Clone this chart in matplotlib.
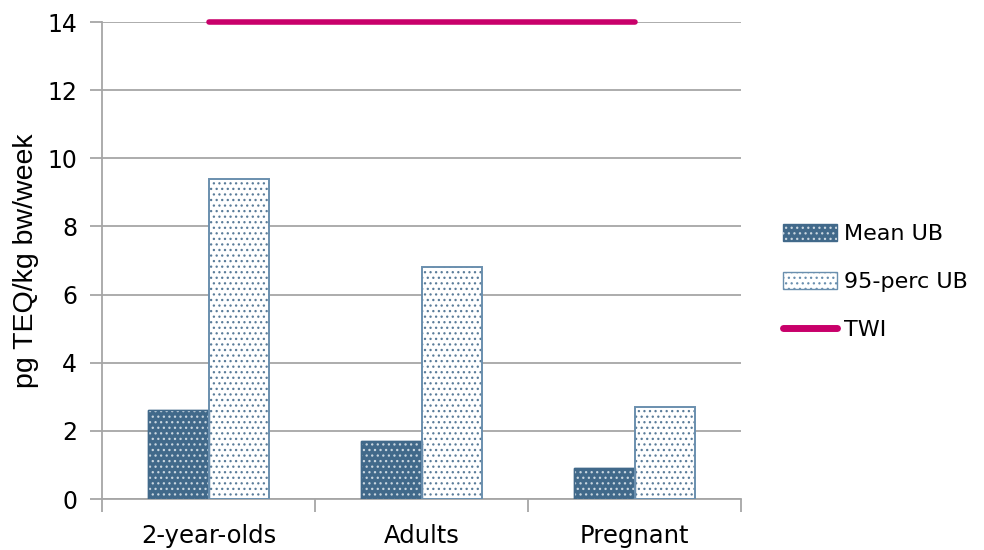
import matplotlib
matplotlib.use("Agg")
import matplotlib.pyplot as plt
from matplotlib.patches import Rectangle
from matplotlib.lines import Line2D
from matplotlib.legend_handler import HandlerTuple
import numpy as np

categories = ["2-year-olds", "Adults", "Pregnant"]
mean_ub = [2.6, 1.7, 0.9]
perc95_ub = [9.4, 6.8, 2.7]
twi = 14
yticks = [0, 2, 4, 6, 8, 10, 12, 14]

dark = "#41698A"
edge = "#6A8FAE"
dot_c = "#5A7C99"
light_dot = "#C9D6E0"
grid_c = "#A6A6A6"
twi_c = "#C8006A"
dots = "..."

plt.rcParams["hatch.linewidth"] = 0.9

fig = plt.figure(figsize=(9.84, 5.5), dpi=100)
ax = fig.add_axes([0.1037, 0.0927, 0.6494, 0.8673])

x = np.arange(len(categories))
w = 0.286

# Mean UB: dark fill with light dots
ax.bar(x - w / 2, mean_ub, w, color=dark, edgecolor=dark, linewidth=1, zorder=3)
ax.bar(x - w / 2, mean_ub, w, fill=False, hatch=dots, edgecolor=light_dot,
       linewidth=0, zorder=4)
ax.bar(x - w / 2, mean_ub, w, fill=False, edgecolor=dark, linewidth=1, zorder=5)

# 95-perc UB: white fill with blue dots
ax.bar(x + w / 2, perc95_ub, w, color="white", edgecolor=dot_c, linewidth=0,
       hatch=dots, zorder=3)
ax.bar(x + w / 2, perc95_ub, w, fill=False, edgecolor=edge, linewidth=1.4, zorder=5)

# TWI reference line
ax.plot([x[0], x[-1]], [twi, twi], color=twi_c, linewidth=4,
        solid_capstyle="round", zorder=6, clip_on=False)

ax.set_xlim(-0.5, len(categories) - 0.5)
ax.set_ylim(0, 14)
ax.set_yticks(yticks)
ax.set_yticklabels([str(v) for v in yticks], fontsize=17, family="DejaVu Sans")
ax.yaxis.grid(True, color=grid_c, linewidth=1.3, zorder=0)
ax.set_axisbelow(True)

ax.set_xticks(x)
ax.set_xticklabels(categories, fontsize=17.5, family="DejaVu Sans")
ax.tick_params(axis="x", length=0, pad=18)
ax.set_xticks(np.arange(-0.5, len(categories)), minor=True)
ax.tick_params(axis="x", which="minor", length=9, color=grid_c, width=1.3)
ax.tick_params(axis="y", length=9, color=grid_c, width=1.3, pad=9)

for s in ["top", "right"]:
    ax.spines[s].set_visible(False)
for s in ["left", "bottom"]:
    ax.spines[s].set_color(grid_c)
    ax.spines[s].set_linewidth(1.3)

ax.set_ylabel("pg TEQ/kg bw/week", fontsize=20.5, family="Liberation Sans",
              labelpad=6)

mean_handle = (
    Rectangle((0, 0), 1, 1, facecolor=dark, edgecolor=dark),
    Rectangle((0, 0), 1, 1, fill=False, edgecolor=light_dot, hatch=dots, linewidth=0),
)
handles = [
    mean_handle,
    Rectangle((0, 0), 1, 1, facecolor="white", edgecolor=edge, hatch=dots),
    Line2D([0], [0], color=twi_c, linewidth=5, solid_capstyle="round"),
]
leg = fig.legend(handles, ["Mean UB", "95-perc UB", "TWI"],
                 loc="center left", bbox_to_anchor=(0.775, 0.487),
                 frameon=False, handlelength=2.45,
                 handleheight=0.75, labelspacing=1.25, handletextpad=0.3,
                 handler_map={tuple: HandlerTuple(ndivide=1, pad=0)},
                 prop={"family": "DejaVu Sans", "size": 16})

fig.savefig("out.png", dpi=100)
